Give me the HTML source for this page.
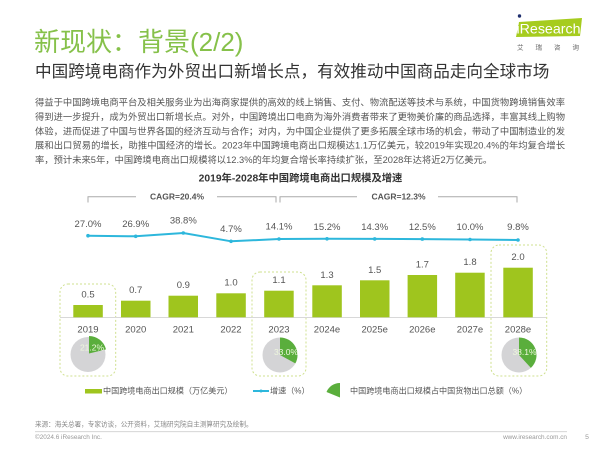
<!DOCTYPE html>
<html><head><meta charset="utf-8"><style>
html,body{margin:0;padding:0;background:#fff;}
body{width:600px;height:449px;overflow:hidden;}
svg text{font-family:"Liberation Sans","Noto Sans CJK SC",sans-serif;}
</style></head><body>
<svg width="600" height="449" viewBox="0 0 600 449" xmlns="http://www.w3.org/2000/svg">
<!-- Title -->
<text x="34" y="42" dominant-baseline="central" font-size="26" fill="#86c14a">新现状：背景(2/2)</text>
<text x="35" y="71.5" dominant-baseline="central" font-size="16.6" fill="#333">中国跨境电商作为外贸出口新增长点，有效推动中国商品走向全球市场</text>

<!-- Logo -->
<polygon points="519,22 582,18 580,36 516,37" fill="#a6cc1e"/>
<circle cx="519.5" cy="16" r="1.7" fill="#1f2f6e"/>
<text x="516.5" y="28.5" dominant-baseline="central" font-size="14" fill="#fff" textLength="64" lengthAdjust="spacingAndGlyphs">iResearch</text>
<text x="517" y="48" dominant-baseline="central" font-size="6.5" fill="#666" textLength="62" lengthAdjust="spacing">艾瑞咨询</text>

<!-- Paragraph -->
<g font-size="9.3" fill="#555" dominant-baseline="central">
<text x="35" y="102.5" textLength="530" lengthAdjust="spacing">得益于中国跨境电商平台及相关服务业为出海商家提供的高效的线上销售、支付、物流配送等技术与系统，中国货物跨境销售效率</text>
<text x="35" y="116.9" textLength="530" lengthAdjust="spacing">得到进一步提升，成为外贸出口新增长点。对外，中国跨境出口电商为海外消费者带来了更物美价廉的商品选择，丰富其线上购物</text>
<text x="35" y="131.3" textLength="530" lengthAdjust="spacing">体验，进而促进了中国与世界各国的经济互动与合作；对内，为中国企业提供了更多拓展全球市场的机会，带动了中国制造业的发</text>
<text x="35" y="145.7" textLength="530" lengthAdjust="spacing">展和出口贸易的增长，助推中国经济的增长。2023年中国跨境电商出口规模达1.1万亿美元，较2019年实现20.4%的年均复合增长</text>
<text x="35" y="160.1">率，预计未来5年，中国跨境电商出口规模将以12.3%的年均复合增长率持续扩张，至2028年达将近2万亿美元。</text>
</g>

<!-- Chart title -->
<text x="300.5" y="179" text-anchor="middle" dominant-baseline="central" font-size="10.3" font-weight="bold" fill="#333">2019年-2028年中国跨境电商出口规模及增速</text>

<!-- CAGR brackets -->
<g stroke="#aaa" stroke-width="1" fill="none">
<polyline points="88,202.5 88,196.7 136,196.7"/>
<polyline points="217,196.7 276,196.7 276,202.5"/>
<polyline points="280,202.5 280,196.7 357,196.7"/>
<polyline points="438,196.7 517,196.7 517,202.5"/>
</g>
<text x="177" y="196.7" text-anchor="middle" dominant-baseline="central" font-size="8.5" font-weight="bold" fill="#555">CAGR=20.4%</text>
<text x="398.5" y="196.7" text-anchor="middle" dominant-baseline="central" font-size="8.5" font-weight="bold" fill="#555">CAGR=12.3%</text>

<!-- Dashed boxes -->
<g stroke="#cfe08f" stroke-width="1" stroke-dasharray="2,2" fill="none">
<rect x="60" y="284" width="55.7" height="92" rx="8"/>
<rect x="252" y="272" width="54" height="104" rx="8"/>
<rect x="491" y="245" width="55.7" height="131" rx="8"/>
</g>

<!-- Growth line -->
<polyline points="88,235.7 135.7,236.3 183.3,233 231,241.3 279,239 327,238.8 374.7,238.9 422.3,239.1 470,239.5 518,240" fill="none" stroke="#2db7dc" stroke-width="2"/>
<g fill="#2db7dc">
<circle cx="88" cy="235.7" r="1.8"/><circle cx="135.7" cy="236.3" r="1.8"/><circle cx="183.3" cy="233" r="1.8"/><circle cx="231" cy="241.3" r="1.8"/><circle cx="279" cy="239" r="1.8"/><circle cx="327" cy="238.8" r="1.8"/><circle cx="374.7" cy="238.9" r="1.8"/><circle cx="422.3" cy="239.1" r="1.8"/><circle cx="470" cy="239.5" r="1.8"/><circle cx="518" cy="240" r="1.8"/>
</g>
<g font-size="9.5" fill="#555" text-anchor="middle" dominant-baseline="central">
<text x="88" y="224.3">27.0%</text><text x="135.7" y="224.3">26.9%</text><text x="183.3" y="221">38.8%</text><text x="231" y="229.3">4.7%</text><text x="279" y="227">14.1%</text><text x="327" y="227.3">15.2%</text><text x="374.7" y="227.3">14.3%</text><text x="422.3" y="227.3">12.5%</text><text x="470" y="227.3">10.0%</text><text x="518" y="227.3">9.8%</text>
</g>

<!-- Bars -->
<line x1="60" y1="317.5" x2="546" y2="317.5" stroke="#d8d8d8" stroke-width="1"/>
<g fill="#9fc51e">
<rect x="73.3" y="305" width="29.5" height="12.3"/>
<rect x="121" y="300.7" width="29.5" height="16.6"/>
<rect x="168.5" y="295.7" width="29.5" height="21.6"/>
<rect x="216.3" y="293.3" width="29.5" height="24"/>
<rect x="264.2" y="290.7" width="29.5" height="26.6"/>
<rect x="312.3" y="285.3" width="29.5" height="32"/>
<rect x="360" y="280.3" width="29.5" height="37"/>
<rect x="407.6" y="275" width="29.5" height="42.3"/>
<rect x="455.2" y="272.7" width="29.5" height="44.6"/>
<rect x="503.3" y="267.7" width="29.5" height="49.6"/>
</g>
<g font-size="9.5" fill="#555" text-anchor="middle" dominant-baseline="central">
<text x="88" y="295">0.5</text><text x="135.7" y="290.5">0.7</text><text x="183.3" y="285.5">0.9</text><text x="231" y="283">1.0</text><text x="279" y="280.5">1.1</text><text x="327" y="275.3">1.3</text><text x="374.7" y="270.3">1.5</text><text x="422.3" y="265">1.7</text><text x="470" y="262.7">1.8</text><text x="518" y="257.7">2.0</text>
</g>
<g font-size="9.5" fill="#555" text-anchor="middle" dominant-baseline="central">
<text x="88" y="330">2019</text><text x="135.7" y="330">2020</text><text x="183.3" y="330">2021</text><text x="231" y="330">2022</text><text x="279" y="330">2023</text><text x="327" y="330">2024e</text><text x="374.7" y="330">2025e</text><text x="422.3" y="330">2026e</text><text x="470" y="330">2027e</text><text x="518" y="330">2028e</text>
</g>

<!-- Pies -->
<circle cx="88" cy="354.5" r="17.5" fill="#d4d4d6"/>
<path d="M89,353.5 L89,336 A17.5,17.5 0 0,1 106,349.4 Z" fill="#5aae3c"/>
<circle cx="280" cy="355" r="17.5" fill="#d4d4d6"/>
<path d="M280,355 L280,337.5 A17.5,17.5 0 0,1 295.34,363.43 Z" fill="#5aae3c"/>
<circle cx="519" cy="355" r="17.5" fill="#d4d4d6"/>
<path d="M519,355 L519,337.5 A17.5,17.5 0 0,1 530.89,367.84 Z" fill="#5aae3c"/>
<g font-size="8.5" fill="#eef7dd" text-anchor="middle" dominant-baseline="central">
<text x="92" y="347.5">21.2%</text><text x="286" y="352">33.0%</text><text x="524.5" y="352">38.1%</text>
</g>

<!-- Legend -->
<rect x="85" y="389" width="17" height="4.5" fill="#9fc51e"/>
<text x="103" y="391" dominant-baseline="central" font-size="8.1" fill="#555">中国跨境电商出口规模（万亿美元）</text>
<line x1="253" y1="391" x2="269" y2="391" stroke="#2db7dc" stroke-width="2"/>
<circle cx="261" cy="391" r="1.5" fill="#2db7dc"/>
<text x="270" y="391" dominant-baseline="central" font-size="8.1" fill="#555">增速（%）</text>
<path d="M340,397.5 L340,383 A14.5,14.5 0 0,0 326.5,392 Z" fill="#5aae3c"/>
<text x="350" y="391" dominant-baseline="central" font-size="8.1" fill="#555">中国跨境电商出口规模占中国货物出口总额（%）</text>

<!-- Footer -->
<text x="35" y="425" dominant-baseline="central" font-size="6.6" fill="#888">来源：海关总署，专家访谈，公开资料，艾瑞研究院自主测算研究及绘制。</text>
<line x1="35" y1="431.7" x2="567" y2="431.7" stroke="#cfcfcf" stroke-width="0.8"/>
<text x="35" y="437.5" dominant-baseline="central" font-size="6.4" fill="#999">©2024.6 iResearch Inc.</text>
<text x="567" y="437.5" text-anchor="end" dominant-baseline="central" font-size="6.4" fill="#999">www.iresearch.com.cn</text>
<text x="587" y="437.5" text-anchor="middle" dominant-baseline="central" font-size="6.8" fill="#999">5</text>
</svg>
</body></html>
